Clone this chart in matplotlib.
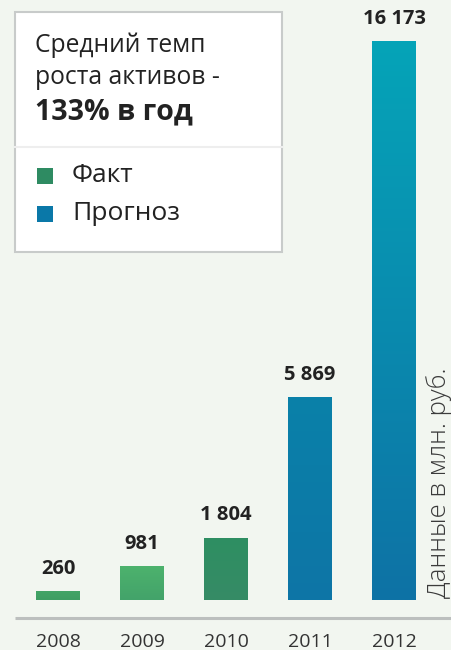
import numpy as np
import matplotlib
matplotlib.use("Agg")
import matplotlib.pyplot as plt
from matplotlib.patches import Rectangle
from matplotlib.colors import LinearSegmentedColormap

# data
years = ["2008", "2009", "2010", "2011", "2012"]
values = [260, 981, 1804, 5869, 16173]
labels = ["260", "981", "1 804", "5 869", "16 173"]
kind = ["fact", "fact", "fact", "forecast", "forecast"]

# gradient colours per bar (top, bottom)
bar_colors = [
    ("#43a466", "#3f9e63"),
    ("#4db26d", "#43a36a"),
    ("#2e8f62", "#368b66"),
    ("#0a81a9", "#0e75a6"),
    ("#05a4b8", "#0e72a5"),
]
legend_colors = {"fact": "#2e8b62", "forecast": "#0a78a8"}

plt.rcParams["font.family"] = ["Open Sans", "DejaVu Sans"]

fig = plt.figure(figsize=(4.52, 6.5), dpi=100)
fig.patch.set_facecolor("#f2f6f0")
ax = fig.add_axes([0, 0, 1, 1])
ax.set_facecolor("#f2f6f0")

upp = 16173 / 559.0  # data units per pixel
ax.set_ylim(-50 * upp, 600 * upp)
ax.set_xlim(-58 / 84, (452 - 58) / 84)
ax.axis("off")

x = np.arange(len(years))
width = 44 / 84
bars = ax.bar(x, values, width=width, color="none", edgecolor="none")
for b, (ctop, cbot) in zip(bars, bar_colors):
    cmap = LinearSegmentedColormap.from_list("g", [cbot, ctop])
    grad = np.linspace(0, 1, 256).reshape(-1, 1)
    im = ax.imshow(grad, cmap=cmap, aspect="auto", origin="lower",
                   extent=(b.get_x(), b.get_x() + b.get_width(), 0, b.get_height()),
                   zorder=2)
    im.set_clip_path(b)

for xi, v, lab in zip(x, values, labels):
    ax.annotate(lab, (xi, v), xytext=(0, 9), textcoords="offset points",
                ha="center", va="bottom", fontsize=14.5, fontweight="bold",
                color="#222222")

# baseline
ax.plot([15 / 452, 1], [32 / 650, 32 / 650], transform=ax.transAxes,
        color="#bcbfbe", lw=2.2, solid_capstyle="butt")
for xi, y in zip(x, years):
    ax.text(xi, -42 * upp, y, ha="center", va="center", fontsize=14,
            color="#333333")

# side note
ax.text(439 / 452, 52 / 650, "Данные в млн. руб.", rotation=90,
        transform=ax.transAxes, ha="center", va="bottom", fontsize=18.5,
        color="#3a3a3a", fontweight="light")

# info box
ax.add_patch(Rectangle((15 / 452, 398 / 650), 267 / 452, 240 / 650,
                       transform=ax.transAxes, facecolor="white",
                       edgecolor="#c8cbca", lw=1.5, zorder=3))
ax.plot([15 / 452, 282 / 452], [503 / 650, 503 / 650], transform=ax.transAxes,
        color="#eeeeee", lw=1.5, zorder=4)
ax.text(35 / 452, 1 - 45 / 650, "Средний темп", transform=ax.transAxes,
        ha="left", va="center", fontsize=17.7, color="#222222", zorder=5)
ax.text(35 / 452, 1 - 78 / 650, "роста активов -", transform=ax.transAxes,
        ha="left", va="center", fontsize=17.7, color="#222222", zorder=5)
ax.text(35 / 452, 1 - 112 / 650, "133% в год", transform=ax.transAxes,
        ha="left", va="center", fontsize=20.5, fontweight="bold",
        color="#222222", zorder=5)

for i, (k, name) in enumerate([("fact", "Факт"), ("forecast", "Прогноз")]):
    yc = 176 + i * 38
    ax.add_patch(Rectangle((37 / 452, 1 - (yc + 8) / 650), 16 / 452, 16 / 650,
                           transform=ax.transAxes, facecolor=legend_colors[k],
                           edgecolor="none", zorder=5))
    ax.text(72 / 452, 1 - yc / 650, name, transform=ax.transAxes, ha="left",
            va="center", fontsize=19, fontweight="medium", color="#222222",
            zorder=5)

fig.savefig("out.png", dpi=100, facecolor=fig.get_facecolor())
